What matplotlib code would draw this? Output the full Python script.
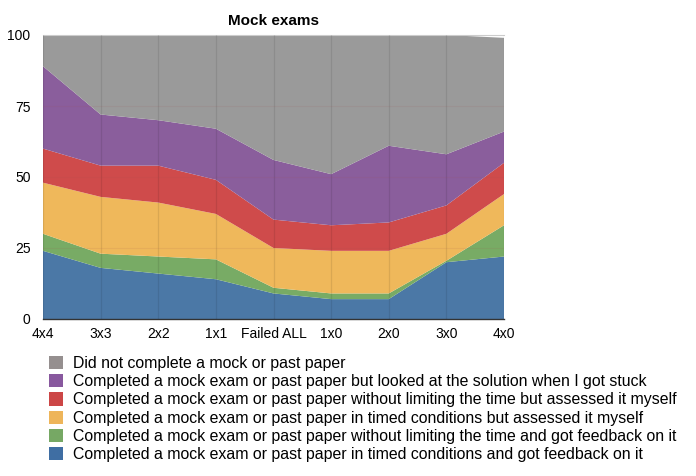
import matplotlib
matplotlib.use("Agg")
import matplotlib.pyplot as plt
from matplotlib.patches import Patch
import numpy as np

plt.rcParams['font.family'] = ['Liberation Sans', 'DejaVu Sans']

categories = ["4x4", "3x3", "2x2", "1x1", "Failed ALL", "1x0", "2x0", "3x0", "4x0"]

timed_feedback = [24, 18, 16, 14, 9, 7, 7, 20, 22]
untimed_feedback = [6, 5, 6, 7, 2, 2, 2, 0.5, 11]
timed_self = [18, 20, 19, 16, 14, 15, 15, 9.5, 11]
untimed_self = [12, 11, 13, 12, 10, 9, 10, 10, 11]
looked_solution = [29, 18, 16, 18, 21, 18, 27, 18, 11]
did_not_complete = [11, 28, 30, 33, 44, 49, 39, 42, 33]

series = [timed_feedback, untimed_feedback, timed_self, untimed_self,
          looked_solution, did_not_complete]
labels = [
    "Completed a mock exam or past paper in timed conditions and got feedback on it",
    "Completed a mock exam or past paper without limiting the time and got feedback on it",
    "Completed a mock exam or past paper in timed conditions but assessed it myself",
    "Completed a mock exam or past paper without limiting the time but assessed it myself",
    "Completed a mock exam or past paper but looked at the solution when I got stuck",
    "Did not complete a mock or past paper",
]
colors = ["#4b78a6", "#78ab65", "#efb85b", "#cf4b4b", "#8a5e9c", "#9a9a9a"]
legend_colors = ["#3f6ea3", "#76a864", "#eeb55a", "#cc4646", "#88589e", "#958f8f"]

fig = plt.figure(figsize=(6.96, 4.76), dpi=100)
ax = fig.add_axes([43/696, 1-319/476, (504-43)/696, (319-35)/476])

x = np.arange(len(categories))
ax.stackplot(x, *series, colors=colors, linewidth=0)

for xi in x:
    ax.axvline(xi, color="#000000", alpha=0.09, linewidth=0.9, zorder=3)
for yv in [25, 50, 75]:
    ax.axhline(yv, color="#a05050", alpha=0.10, linewidth=0.8, zorder=3)

ax.set_xlim(0, len(categories) - 1)
ax.set_ylim(0, 100)
ax.set_xticks(x)
ax.set_xticklabels(categories, fontsize=10)
ax.set_yticks([0, 25, 50, 75, 100])
ax.set_yticklabels(["0", "25", "50", "75", "100"], fontsize=10)
ax.tick_params(length=0, pad=6)
ax.tick_params(axis='y', pad=9)
for s in ["left", "right"]:
    ax.spines[s].set_visible(False)
ax.spines["top"].set_color("#cccccc")
ax.spines["bottom"].set_color("#333333")
ax.spines["bottom"].set_linewidth(1.0)

ax.set_title("Mock exams", fontsize=11, fontweight="bold", pad=7)

handles = [Patch(facecolor=c, edgecolor="none") for c in legend_colors[::-1]]
fig.legend(handles, labels[::-1], loc="upper left", bbox_to_anchor=(49/696, 1-356/476),
           frameon=False, fontsize=11.4, handlelength=0.9, handleheight=0.9,
           handletextpad=0.63, labelspacing=0.2, borderaxespad=0, borderpad=0)

fig.savefig("out.png", dpi=100)
